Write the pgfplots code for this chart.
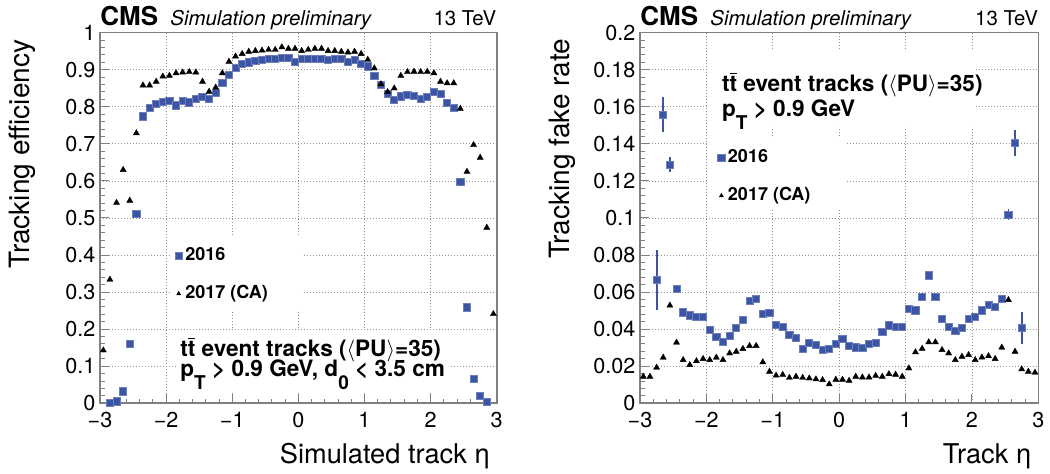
\documentclass[border=0pt]{standalone}
\usepackage{fontspec}
\setmainfont{TeX Gyre Heros}
\usepackage{pgfplots}
\usepackage{pgfplotstable}
\pgfplotsset{compat=1.18}

\definecolor{cmsblue}{RGB}{59,84,164}
\definecolor{framegray}{RGB}{128,128,128}

% efficiency vs simulated track eta
\pgfplotstableread{
eta eff
-2.85 0.001
-2.75 0.005
-2.65 0.032
-2.55 0.161
-2.45 0.511
-2.35 0.774
-2.25 0.796
-2.15 0.808
-2.05 0.814
-1.95 0.815
-1.85 0.804
-1.75 0.816
-1.65 0.812
-1.55 0.822
-1.45 0.826
-1.35 0.822
-1.25 0.837
-1.15 0.864
-1.05 0.886
-0.95 0.906
-0.85 0.915
-0.75 0.920
-0.65 0.924
-0.55 0.927
-0.45 0.929
-0.35 0.930
-0.25 0.931
-0.15 0.933
-0.05 0.922
0.05 0.929
0.15 0.929
0.25 0.930
0.35 0.930
0.45 0.927
0.55 0.929
0.65 0.929
0.75 0.922
0.85 0.927
0.95 0.916
1.05 0.909
1.15 0.884
1.25 0.859
1.35 0.835
1.45 0.819
1.55 0.828
1.65 0.832
1.75 0.830
1.85 0.822
1.95 0.826
2.05 0.840
2.15 0.834
2.25 0.810
2.35 0.796
2.45 0.598
2.55 0.259
2.65 0.065
2.75 0.020
2.85 0.004
}\effold

\pgfplotstableread{
eta eff
-2.95 0.143
-2.85 0.334
-2.75 0.541
-2.65 0.630
-2.55 0.547
-2.45 0.729
-2.35 0.858
-2.25 0.858
-2.15 0.868
-2.05 0.882
-1.95 0.884
-1.85 0.891
-1.75 0.893
-1.65 0.894
-1.55 0.893
-1.45 0.868
-1.35 0.841
-1.25 0.852
-1.15 0.891
-1.05 0.922
-0.95 0.936
-0.85 0.943
-0.75 0.949
-0.65 0.951
-0.55 0.952
-0.45 0.954
-0.35 0.954
-0.25 0.961
-0.15 0.957
-0.05 0.957
0.05 0.951
0.15 0.954
0.25 0.957
0.35 0.957
0.45 0.951
0.55 0.951
0.65 0.949
0.75 0.947
0.85 0.949
0.95 0.943
1.05 0.927
1.15 0.904
1.25 0.861
1.35 0.840
1.45 0.850
1.55 0.884
1.65 0.894
1.75 0.895
1.85 0.894
1.95 0.895
2.05 0.891
2.15 0.868
2.25 0.864
2.35 0.864
2.45 0.795
2.55 0.625
2.65 0.697
2.75 0.663
2.85 0.474
2.95 0.241
}\effca

% fake rate vs track eta
\pgfplotstableread{
eta rate err
-2.75 0.0666 0.0160
-2.65 0.1558 0.0095
-2.55 0.1288 0.0040
-2.45 0.0616 0
-2.35 0.0490 0
-2.25 0.0474 0
-2.15 0.0465 0
-2.05 0.0468 0
-1.95 0.0396 0
-1.85 0.0360 0
-1.75 0.0333 0
-1.65 0.0363 0
-1.55 0.0409 0
-1.45 0.0450 0
-1.35 0.0553 0
-1.25 0.0562 0
-1.15 0.0481 0
-1.05 0.0487 0
-0.95 0.0423 0
-0.85 0.0414 0
-0.75 0.0369 0
-0.65 0.0351 0
-0.55 0.0294 0
-0.45 0.0324 0
-0.35 0.0314 0
-0.25 0.0288 0
-0.15 0.0294 0
-0.05 0.0320 0
0.05 0.0346 0
0.15 0.0311 0
0.25 0.0302 0
0.35 0.0297 0
0.45 0.0320 0
0.55 0.0326 0
0.65 0.0387 0
0.75 0.0420 0
0.85 0.0414 0
0.95 0.0414 0
1.05 0.0510 0
1.15 0.0501 0
1.25 0.0576 0
1.35 0.0690 0
1.45 0.0576 0
1.55 0.0456 0
1.65 0.0411 0
1.75 0.0391 0
1.85 0.0405 0
1.95 0.0456 0
2.05 0.0465 0
2.15 0.0501 0
2.25 0.0531 0
2.35 0.0519 0
2.45 0.0564 0
2.55 0.1018 0.0030
2.65 0.1405 0.0070
2.75 0.0405 0.0085
}\fakeold

\pgfplotstableread{
eta rate
-2.95 0.0144
-2.85 0.0144
-2.75 0.0193
-2.65 0.0247
-2.55 0.0528
-2.45 0.0328
-2.35 0.0234
-2.25 0.0207
-2.15 0.0228
-2.05 0.0240
-1.95 0.0234
-1.85 0.0247
-1.75 0.0234
-1.65 0.0270
-1.55 0.0279
-1.45 0.0294
-1.35 0.0310
-1.25 0.0310
-1.15 0.0222
-1.05 0.0171
-0.95 0.0150
-0.85 0.0154
-0.75 0.0138
-0.65 0.0144
-0.55 0.0138
-0.45 0.0135
-0.35 0.0130
-0.25 0.0126
-0.15 0.0103
-0.05 0.0128
0.05 0.0128
0.15 0.0122
0.25 0.0144
0.35 0.0140
0.45 0.0140
0.55 0.0149
0.65 0.0144
0.75 0.0158
0.85 0.0155
0.95 0.0144
1.05 0.0189
1.15 0.0276
1.25 0.0295
1.35 0.0330
1.45 0.0330
1.55 0.0288
1.65 0.0270
1.75 0.0234
1.85 0.0252
1.95 0.0261
2.05 0.0234
2.15 0.0248
2.25 0.0255
2.35 0.0240
2.45 0.0301
2.55 0.0558
2.65 0.0279
2.75 0.0184
2.85 0.0171
2.95 0.0166
}\fakeca

\pgfplotsset{
  cmspanel/.style={
    scale only axis, clip=false,
    anchor=south west,
    xmin=-3, xmax=3,
    xtick={-3,-2,-1,0,1,2,3},
    xticklabels={−3,−2,−1,0,1,2,3},
    minor x tick num=4, minor y tick num=4,
    xtick pos=bottom, ytick pos=left, tick align=inside,
    major tick length=4.5pt, minor tick length=2.3pt,
    axis line style={framegray, line width=0.8pt},
    every tick/.style={framegray, line width=0.5pt},
    grid=major,
    major grid style={gray!85, line width=0.4pt, dash pattern=on 0.4pt off 1.1pt},
    tick label style={font=\fontsize{10.8}{12}\selectfont, inner sep=0.5pt},
    xticklabel style={yshift=-3.6pt},
    yticklabel style={xshift=-1.6pt},
    /pgf/number format/assume math mode=true,
    every axis x label/.style={at={(rel axis cs:1,0)}, anchor=base east, yshift=-29.9pt,
      font=\fontsize{13.6}{16}\selectfont},
    every axis y label/.style={at={(rel axis cs:0,1)}, xshift=-39pt, rotate=90, anchor=east,
      font=\fontsize{14}{16}\selectfont},
    legend cell align=left,
    legend style={draw=none, fill=none, inner sep=0pt, column sep=1.5pt, row sep=10.3pt,
      font=\bfseries\fontsize{9}{10}\selectfont,
      nodes={inner sep=0pt, text height=6.5pt, text depth=2pt}},
  },
  oldstyle/.style={only marks, mark=square*, mark size=1.8pt,
    mark options={fill=cmsblue, draw=cmsblue!75!white, line width=0.4pt},
    legend image code/.code={\draw[only marks] plot coordinates {(0pt,0pt)};}},
  castyle/.style={only marks, mark=triangle*, mark size=1.75pt,
    mark options={fill=black, draw=black, line width=0.2pt},
    legend image code/.code={\draw[only marks, mark size=1.15pt] plot coordinates {(0pt,0pt)};}},
}

\newcommand{\cmshead}{%
  \node[anchor=base west, font=\bfseries\fontsize{13}{15}\selectfont, inner sep=0pt, yshift=3.35pt] at (rel axis cs:0,1) {CMS};
  \node[anchor=base west, font=\itshape\fontsize{10.2}{12}\selectfont, inner sep=0pt, xshift=35pt, yshift=3.35pt] at (rel axis cs:0,1) {Simulation preliminary};
  \node[anchor=base east, font=\fontsize{10.2}{12}\selectfont, inner sep=0pt, yshift=3.35pt] at (rel axis cs:1,1) {13 TeV};
}
\newcommand{\ttbar}{t$\overline{\mbox{t}}$}
\newcommand{\sub}[1]{\raisebox{-6.3pt}{\fontsize{9.5}{10}\selectfont #1}}

\begin{document}
\begin{tikzpicture}
\path[use as bounding box] (0,0) rectangle (525pt,237pt);

\begin{axis}[cmspanel, at={(50pt,35.35pt)}, width=198.35pt, height=185.3pt,
  ymin=0, ymax=1,
  ytick={0,0.1,0.2,0.3,0.4,0.5,0.6,0.7,0.8,0.9,1},
  yticklabels={0,0.1,0.2,0.3,0.4,0.5,0.6,0.7,0.8,0.9,1},
  xlabel={Simulated track η}, ylabel={Tracking efficiency},
  legend style={at={(axis cs:-1.816,0.398)}, anchor=north west, xshift=-1.8pt, yshift=4.3pt},
]
\fill[white] (axis cs:-1.94,0.252) rectangle (axis cs:0.07,0.448);
\fill[white] (axis cs:-1.82,0.03) rectangle (axis cs:2.29,0.198);
\addplot[oldstyle] table[x=eta, y=eff] {\effold};
\addlegendentry{2016}
\addplot[castyle] table[x=eta, y=eff] {\effca};
\addlegendentry{2017 (CA)}
\cmshead
\node[anchor=base west, inner sep=0pt, font=\bfseries\fontsize{11.3}{12}\selectfont]
  at (axis cs:-1.79,0.126) {\ttbar{} event tracks ($\langle$PU$\rangle$=35)};
\node[anchor=base west, inner sep=0pt, font=\bfseries\fontsize{11.3}{12}\selectfont]
  at (axis cs:-1.79,0.072) {p\sub{T} > 0.9 GeV, d\sub{0} < 3.5 cm};
\end{axis}

\begin{axis}[cmspanel, at={(320pt,35.35pt)}, width=199.15pt, height=185.3pt,
  ymin=0, ymax=0.2,
  ytick={0,0.02,0.04,0.06,0.08,0.1,0.12,0.14,0.16,0.18,0.2},
  yticklabels={0,0.02,0.04,0.06,0.08,0.1,0.12,0.14,0.16,0.18,0.2},
  xlabel={Track η}, ylabel={Tracking fake rate},
  every axis y label/.append style={xshift=0.5pt},
  legend style={at={(axis cs:-1.78,0.1325)}, anchor=north west, xshift=-1.8pt, yshift=4.3pt},
]
\fill[white] (axis cs:-1.99,0.105) rectangle (axis cs:0.088,0.143);
\fill[white] (axis cs:-1.99,0.149) rectangle (axis cs:2.045,0.1907);
\addplot[oldstyle, error bars/.cd, y dir=both, y explicit, error mark=none,
  error bar style={cmsblue, line width=0.9pt}]
  table[x=eta, y=rate, y error=err] {\fakeold};
\addlegendentry{2016}
\addplot[castyle] table[x=eta, y=rate] {\fakeca};
\addlegendentry{2017 (CA)}
\cmshead
\node[anchor=base west, inner sep=0pt, font=\bfseries\fontsize{11.3}{12}\selectfont]
  at (axis cs:-1.77,0.1682) {\ttbar{} event tracks ($\langle$PU$\rangle$=35)};
\node[anchor=base west, inner sep=0pt, font=\bfseries\fontsize{11.3}{12}\selectfont]
  at (axis cs:-1.77,0.1547) {p\sub{T} > 0.9 GeV};
\end{axis}
\end{tikzpicture}
\end{document}
